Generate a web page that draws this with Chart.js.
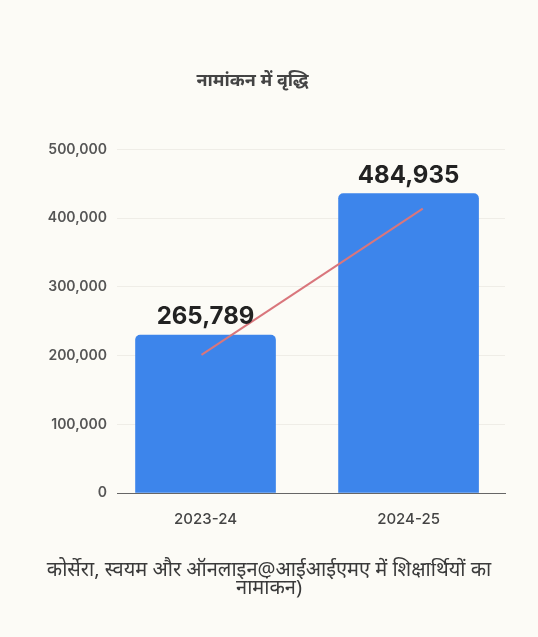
<!DOCTYPE html>
<html>
<head>
<meta charset="utf-8">
<script src="https://cdn.jsdelivr.net/npm/chart.js@4.4.1/dist/chart.umd.min.js"></script>
<style>
  html, body { margin: 0; padding: 0; background: #fcfbf6; }
  #wrap { position: relative; width: 538px; height: 637px; }
  #caption {
    position: absolute; left: 30px; width: 478px; top: 560px;
    text-align: center; font-family: "Noto Sans", "Liberation Sans", sans-serif;
    font-size: 20px; line-height: 18px; color: #3a3a3a;
  }
</style>
</head>
<body>
<div id="wrap">
  <canvas id="chart" width="538" height="637"></canvas>
  <div id="caption">कोर्सेरा, स्वयम और ऑनलाइन@आईआईएमए में शिक्षार्थियों का नामांकन)</div>
</div>
<script>
// data
var categories = ['2023-24', '2024-25'];
var enrolment = [230000, 436000];          // bar heights as drawn
var labelTexts = ['265,789', '484,935'];   // numbers printed above the bars
var trendX = [-0.02, 1.07];
var trendY = [201000, 414000];
var yTicks = [0, 100000, 200000, 300000, 400000, 500000];

var barPoints = categories.map(function (c, i) { return { x: i, y: enrolment[i] }; });
var trendPoints = trendX.map(function (x, i) { return { x: x, y: trendY[i] }; });

// text above each bar
var barLabels = {
    id: 'barLabels',
    afterDatasetsDraw: function (chart) {
        var ctx = chart.ctx;
        var meta = chart.getDatasetMeta(1);
        ctx.save();
        ctx.font = 'bold 24px Inter, "Liberation Sans", sans-serif';
        ctx.fillStyle = '#222';
        ctx.textAlign = 'center';
        ctx.textBaseline = 'bottom';
        meta.data.forEach(function (bar, i) {
            ctx.fillText(labelTexts[i], bar.x, bar.y - 6);
        });
        ctx.restore();
    }
};

var ctx = document.getElementById('chart');
var myChart = new Chart(ctx, {
    type: 'bar',
    data: {
        datasets: [{
            type: 'line',
            data: trendPoints,
            borderColor: '#d9767c',
            borderWidth: 2,
            pointRadius: 0,
            fill: false,
            order: 0
        }, {
            type: 'bar',
            data: barPoints,
            backgroundColor: '#3d85eb',
            borderRadius: { topLeft: 5, topRight: 5 },
            borderSkipped: 'bottom',
            barThickness: 140,
            order: 1
        }]
    },
    options: {
        responsive: false,
        animation: false,
        layout: { padding: { top: 0, right: 33, bottom: 92, left: 0 } },
        plugins: {
            legend: { display: false },
            tooltip: { enabled: false },
            title: {
                display: true,
                text: 'नामांकन में वृद्धि',
                color: '#444',
                font: { family: '"Noto Sans", sans-serif', size: 18, weight: 'bold' },
                padding: { top: 70, bottom: 58 }
            }
        },
        scales: {
            x: {
                type: 'linear',
                min: -0.436,
                max: 1.475,
                offset: false,
                grid: { display: false, drawTicks: false, offset: false },
                border: { display: true, color: '#666', width: 1 },
                afterBuildTicks: function (scale) {
                    scale.ticks = categories.map(function (c, i) { return { value: i }; });
                },
                ticks: {
                    padding: 17,
                    color: '#444',
                    font: { family: 'Inter, sans-serif', size: 15, weight: 500 },
                    callback: function (v) { return categories[v]; }
                }
            },
            y: {
                min: 0,
                max: 500000,
                afterFit: function (scale) { scale.width = 117; },
                afterBuildTicks: function (scale) {
                    scale.ticks = yTicks.map(function (v) { return { value: v }; });
                },
                grid: { color: '#efede7', drawTicks: false },
                border: { display: false },
                ticks: {
                    padding: 10,
                    color: '#555',
                    font: { family: 'Inter, sans-serif', size: 14, weight: 600 },
                    callback: function (v) { return v.toLocaleString('en-US'); }
                }
            }
        }
    },
    plugins: [barLabels]
});
</script>
</body>
</html>
